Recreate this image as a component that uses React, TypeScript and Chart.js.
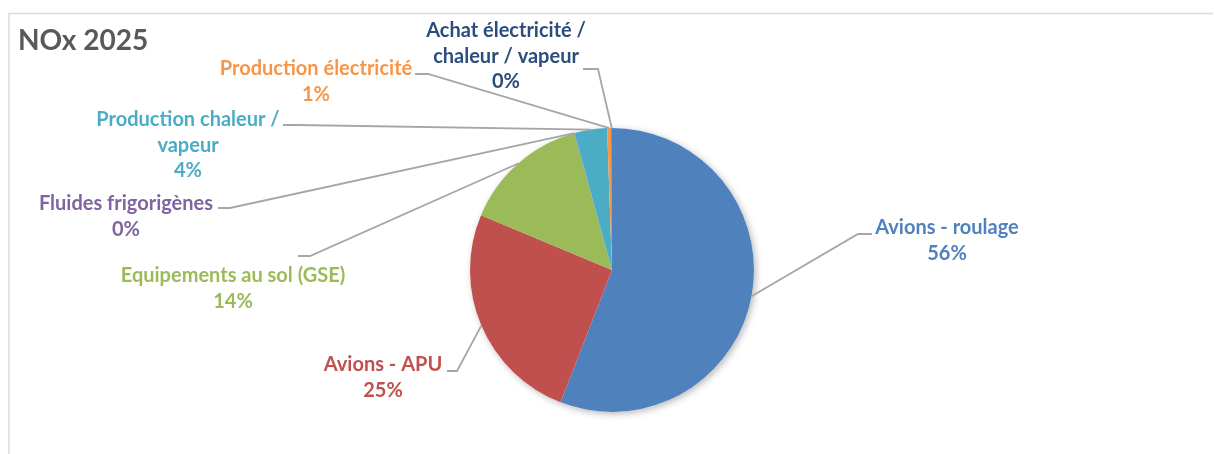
import React, { useEffect, useRef } from "react";
import { Chart, registerables } from "chart.js";

Chart.register(...registerables);

const TITLE = "NOx 2025";

const categories = [
  "Avions - roulage",
  "Avions - APU",
  "Equipements au sol (GSE)",
  "Fluides frigorigènes",
  "Production chaleur / vapeur",
  "Production électricité",
  "Achat électricité / chaleur / vapeur",
];

// shares (%)
const shares = [55.9, 25.4, 14.4, 0.05, 3.7, 0.5, 0.05];

// label text split into lines as in the reference
const labelLines = [
  ["Avions - roulage"],
  ["Avions - APU"],
  ["Equipements au sol (GSE)"],
  ["Fluides frigorigènes"],
  ["Production chaleur /", "vapeur"],
  ["Production électricité"],
  ["Achat électricité /", "chaleur / vapeur"],
];

const sliceColors = ["#4F81BD", "#C0504D", "#9BBB59", "#8064A2", "#4BACC6", "#F79646", "#1F497D"];
const labelColors = ["#4F81BD", "#C0504D", "#9BBB59", "#8064A2", "#4BACC6", "#F79646", "#2C4D7C"];

// label placement (page pixels): text centre x, first line centre y, leader start x, elbow x, leader y
const labelLayout = [
  { x: 947, y: 228, lx: 872, ex: 858, ly: 234 },
  { x: 383, y: 365, lx: 447, ex: 457, ly: 371 },
  { x: 233, y: 276, lx: 298, ex: 310, ly: 256 },
  { x: 126, y: 204, lx: 218, ex: 230, ly: 208 },
  { x: 188, y: 120, lx: 283, ex: 297, ly: 125 },
  { x: 316, y: 69, lx: 415, ex: 428, ly: 74 },
  { x: 506, y: 31, lx: 583, ex: 598, ly: 69 },
];

const FONT = 'Lato, "Open Sans", "Liberation Sans", sans-serif';
const LINE_H = 25.5;

const shadowPlugin = {
  id: "pieShadow",
  beforeDatasetsDraw(chart: any) {
    const meta = chart.getDatasetMeta(0);
    const arc = meta.data[0];
    if (!arc) return;
    const { x, y, outerRadius } = arc.getProps(["x", "y", "outerRadius"], true);
    const ctx = chart.ctx;
    ctx.save();
    ctx.shadowColor = "rgba(0,0,0,0.28)";
    ctx.shadowBlur = 7;
    ctx.shadowOffsetX = 2;
    ctx.shadowOffsetY = 2;
    ctx.fillStyle = "#ffffff";
    ctx.beginPath();
    ctx.arc(x, y, outerRadius, 0, Math.PI * 2);
    ctx.fill();
    ctx.restore();
  },
};

const decorPlugin = {
  id: "decor",
  afterDraw(chart: any) {
    const ctx = chart.ctx;
    const W = chart.width;
    const H = chart.height;
    ctx.save();
    // frame
    ctx.strokeStyle = "#D9D9D9";
    ctx.lineWidth = 1.5;
    ctx.beginPath();
    ctx.moveTo(9, H);
    ctx.lineTo(9, 13.5);
    ctx.lineTo(W - 1, 13.5);
    ctx.stroke();

    // title
    ctx.fillStyle = "#595959";
    ctx.font = `bold 28px ${FONT}`;
    ctx.textAlign = "left";
    ctx.textBaseline = "middle";
    ctx.fillText(TITLE, 18, 41);

    const total = shares.reduce((a, b) => a + b, 0);
    const meta = chart.getDatasetMeta(0);
    meta.data.forEach((arc: any, i: number) => {
      const p = arc.getProps(["x", "y", "startAngle", "endAngle", "outerRadius"], true);
      const mid = (p.startAngle + p.endAngle) / 2;
      const px = p.x + Math.cos(mid) * p.outerRadius;
      const py = p.y + Math.sin(mid) * p.outerRadius;
      const L = labelLayout[i];
      // leader line
      ctx.strokeStyle = "#A6A6A6";
      ctx.lineWidth = 1.8;
      ctx.beginPath();
      ctx.moveTo(L.lx, L.ly);
      ctx.lineTo(L.ex, L.ly);
      ctx.lineTo(px, py);
      ctx.stroke();
      // text
      const lines = [...labelLines[i], `${Math.round((shares[i] / total) * 100)}%`];
      ctx.fillStyle = labelColors[i];
      ctx.font = `bold 20px ${FONT}`;
      ctx.textAlign = "center";
      ctx.textBaseline = "middle";
      lines.forEach((t, k) => ctx.fillText(t, L.x, L.y + k * LINE_H));
    });
    ctx.restore();
  },
};

export default function App() {
  const ref = useRef<HTMLCanvasElement | null>(null);
  useEffect(() => {
    if (!ref.current) return;
    const chart = new Chart(ref.current, {
      type: "pie",
      data: {
        labels: categories,
        datasets: [
          {
            data: shares,
            backgroundColor: sliceColors,
            borderWidth: 0,
          },
        ],
      },
      options: {
        animation: false,
        responsive: true,
        maintainAspectRatio: false,
        layout: { padding: { left: 470, right: 460, top: 128, bottom: 42 } },
        plugins: { legend: { display: false }, tooltip: { enabled: false } },
      },
      plugins: [shadowPlugin, decorPlugin],
    });
    return () => chart.destroy();
  }, []);
  return (
    <div style={{ position: "fixed", left: 0, top: 0, width: 1214, height: 454, background: "#fff" }}>
      <canvas ref={ref} />
    </div>
  );
}
